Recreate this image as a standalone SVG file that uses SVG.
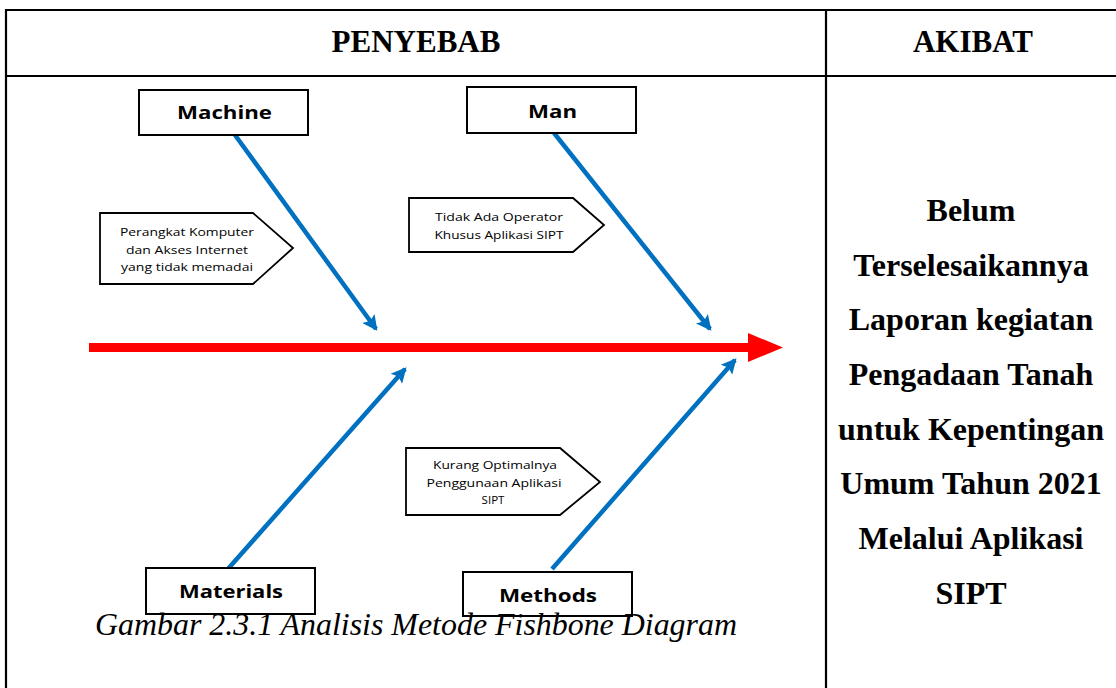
<svg xmlns="http://www.w3.org/2000/svg" width="1116" height="688" viewBox="0 0 1116 688">
<style>
.tbl{stroke:#000;stroke-width:2.2;fill:none}
.hdr{font-family:"Liberation Serif","Times New Roman",serif;font-weight:bold;font-size:31px;fill:#000;text-anchor:middle}
.eff{font-family:"Liberation Serif","Times New Roman",serif;font-weight:bold;font-size:32px;fill:#000;text-anchor:middle}
.box{fill:#fff;stroke:#000;stroke-width:2}
.lbl{font-family:"Open Sans","Liberation Sans",sans-serif;font-weight:bold;font-size:18px;fill:#000}
.cal{fill:#fff;stroke:#000;stroke-width:1.8}
.ct{font-family:"Open Sans","Liberation Sans",sans-serif;font-size:11.5px;fill:#000;text-anchor:middle}
.bone{stroke:#0070C0;stroke-width:4.5;fill:none;marker-end:url(#ah)}
.cap{font-family:"Liberation Serif","Times New Roman",serif;font-style:italic;font-size:31px;fill:#000}
</style>
<defs>
<marker id="ah" viewBox="0 0 10 10" refX="8.5" refY="5" markerWidth="4" markerHeight="3.4" orient="auto" markerUnits="strokeWidth">
<path d="M0,0 L10,5 L0,10 L2,5 z" fill="#0070C0"/>
</marker>
</defs>
<rect width="1116" height="688" fill="#fff"/>
<g id="table">
<line class="tbl" x1="6" y1="10" x2="1116" y2="10"/>
<line class="tbl" x1="6" y1="76" x2="1116" y2="76"/>
<line class="tbl" x1="6" y1="9" x2="6" y2="688"/>
<line class="tbl" x1="826" y1="9" x2="826" y2="688"/>
<text class="hdr" x="416" y="52">PENYEBAB</text>
<text class="hdr" x="973" y="52">AKIBAT</text>
</g>
<g id="spine">
<rect x="89" y="343" width="662" height="9" fill="#FF0000"/>
<polygon points="748,333 783,347.5 748,362" fill="#FF0000"/>
</g>
<g id="connectors">
<line class="bone" x1="235" y1="135" x2="376" y2="329"/>
<line class="bone" x1="554" y1="133" x2="710" y2="329"/>
<line class="bone" x1="227" y1="570" x2="405" y2="369"/>
<line class="bone" x1="552" y1="569" x2="735" y2="360"/>
</g>
<g id="machine">
<rect class="box" x="139" y="90" width="169" height="45"/>
<text class="lbl" x="177" y="119" textLength="95" lengthAdjust="spacingAndGlyphs">Machine</text>
</g>
<g id="man">
<rect class="box" x="467" y="87" width="169" height="46"/>
<text class="lbl" x="528" y="118" textLength="49" lengthAdjust="spacingAndGlyphs">Man</text>
</g>
<g id="materials">
<rect class="box" x="146" y="568" width="169" height="46"/>
<text class="lbl" x="179" y="598" textLength="104" lengthAdjust="spacingAndGlyphs">Materials</text>
</g>
<g id="methods">
<rect class="box" x="463" y="572" width="169" height="44"/>
<text class="lbl" x="499" y="602" textLength="98" lengthAdjust="spacingAndGlyphs">Methods</text>
</g>
<g id="cause-machine">
<polygon class="cal" points="100,213 253,213 293,248 253,284 100,284"/>
<text class="ct" x="187" y="236" textLength="134" lengthAdjust="spacingAndGlyphs">Perangkat Komputer</text>
<text class="ct" x="187" y="254" textLength="122" lengthAdjust="spacingAndGlyphs">dan Akses Internet</text>
<text class="ct" x="187" y="271" textLength="132" lengthAdjust="spacingAndGlyphs">yang tidak memadai</text>
</g>
<g id="cause-man">
<polygon class="cal" points="409,198 573,198 604,225 573,252 409,252"/>
<text class="ct" x="499" y="221" textLength="128" lengthAdjust="spacingAndGlyphs">Tidak Ada Operator</text>
<text class="ct" x="499" y="239" textLength="129" lengthAdjust="spacingAndGlyphs">Khusus Aplikasi SIPT</text>
</g>
<g id="cause-methods">
<polygon class="cal" points="406,448 560,448 600,482 560,515 406,515"/>
<text class="ct" x="495" y="469" textLength="124" lengthAdjust="spacingAndGlyphs">Kurang Optimalnya</text>
<text class="ct" x="494" y="487" textLength="135" lengthAdjust="spacingAndGlyphs">Penggunaan Aplikasi</text>
<text class="ct" x="493" y="504">SIPT</text>
</g>
<g id="effect">
<text class="eff" x="971" y="221">Belum</text>
<text class="eff" x="971" y="276">Terselesaikannya</text>
<text class="eff" x="971" y="330">Laporan kegiatan</text>
<text class="eff" x="971" y="385">Pengadaan Tanah</text>
<text class="eff" x="971" y="440">untuk Kepentingan</text>
<text class="eff" x="971" y="494">Umum Tahun 2021</text>
<text class="eff" x="971" y="549">Melalui Aplikasi</text>
<text class="eff" x="971" y="604">SIPT</text>
</g>
<g id="caption">
<text class="cap" x="95" y="635" textLength="642" lengthAdjust="spacingAndGlyphs">Gambar 2.3.1 Analisis Metode Fishbone Diagram</text>
</g>
</svg>
